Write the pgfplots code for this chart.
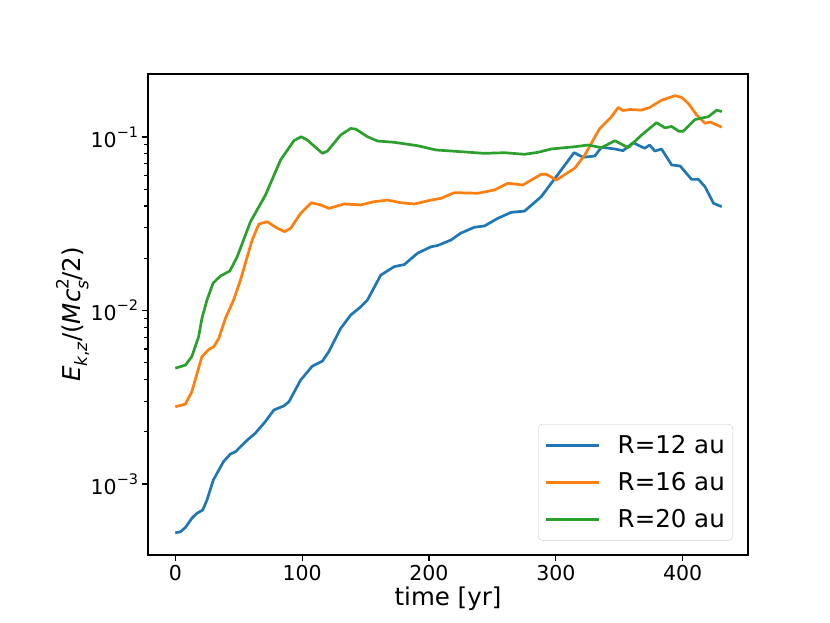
\documentclass[border=0pt]{standalone}
\usepackage{fontspec}
\setmainfont{DejaVu Sans}
\usepackage{pgfplots}
\pgfplotsset{compat=1.18}
\definecolor{c0}{HTML}{1F77B4}
\definecolor{c1}{HTML}{FF7F0E}
\definecolor{c2}{HTML}{2CA02C}
\newcommand{\sm}[1]{{\fontsize{17}{17}\selectfont #1}}
\newcommand{\expo}[1]{10\raisebox{0.5em}{\fontsize{14.5}{14.5}\selectfont #1}}
\begin{document}
\begin{tikzpicture}
\begin{axis}[
  at={(0pt,0pt)}, anchor=south west,
  scale only axis, width=600pt, height=481pt,
  ymode=log,
  xmin=-21.5, xmax=451.5, ymin=3.9e-4, ymax=0.2307,
  axis line style={line width=1.3pt},
  every tick/.style={line width=1.1pt, black},
  tick align=outside, tick pos=left,
  major tick length=6.3pt, minor tick length=3.6pt,
  xtick={0,100,200,300,400},
  ytick={1e-3,1e-2,1e-1},
  yticklabels={\expo{−3},\expo{−2},\expo{−1}},
  /pgf/number format/assume math mode=true,
  ticklabel style={font=\fontsize{20.5}{24}\selectfont},
  xlabel={time [yr]},
  ylabel={\textit{E}\raisebox{-0.25em}{\sm{\textit{k},\textit{z}}}/(\textit{Mc}\rlap{\raisebox{0.5em}{\sm{2}}}\raisebox{-0.3em}{\sm{\textit{s}}}/2)},
  label style={font=\fontsize{24.5}{29}\selectfont},
  ylabel style={at={(axis description cs:-0.1258,0.5)}, anchor=center},
  legend cell align=left,
  legend style={at={(1,0)}, anchor=south east, xshift=-15pt, yshift=14.5pt,
    font=\fontsize{24.5}{29}\selectfont, draw=black!20,
    rounded corners=4pt, row sep=13.5pt, inner xsep=6pt, inner ysep=9pt},
  legend image code/.code={\draw[#1, solid, line width=3pt] (0pt,0pt) -- (53pt,0pt);\path[draw=none] (0pt,0pt) -- (70pt,0pt);},
  every axis plot/.append style={line width=2.7pt, line join=round},
]
\addplot[c0] coordinates {
(0,5.24e-4) (4,5.3e-4) (8,5.62e-4) (13,6.34e-4) (17,6.78e-4) (21.6,7.08e-4)
(25,8.09e-4) (30,1.055e-3) (38,1.346e-3) (43.5,1.49e-3) (47.4,1.535e-3)
(56.7,1.79e-3) (63,1.96e-3) (71,2.29e-3) (77.7,2.67e-3) (85.6,2.82e-3)
(89.6,2.98e-3) (98.8,3.97e-3) (108,4.78e-3) (116,5.11e-3) (121,5.79e-3)
(130.4,7.89e-3) (138.3,9.42e-3) (146.2,1.05e-2) (151.5,1.15e-2) (162,1.60e-2)
(172.6,1.79e-2) (180.5,1.84e-2) (191,2.14e-2) (201.6,2.33e-2) (206.9,2.37e-2)
(217.4,2.55e-2) (225,2.79e-2) (235.8,3.02e-2) (243.7,3.07e-2) (254.3,3.40e-2)
(264.8,3.68e-2) (275.3,3.74e-2) (288.5,4.53e-2) (304.3,6.46e-2) (314.4,8.13e-2)
(321.5,7.64e-2) (330.7,7.77e-2) (336,8.73e-2) (346.5,8.53e-2) (353,8.34e-2)
(361,9.27e-2) (370,8.61e-2) (374,8.99e-2) (378,8.30e-2) (383.4,8.52e-2)
(391.3,6.90e-2) (398,6.81e-2) (407,5.70e-2) (412.4,5.70e-2) (417.6,5.17e-2)
(424.3,4.15e-2) (430.8,3.97e-2)
};
\addlegendentry{R=12 au}
\addplot[c1] coordinates {
(0,2.79e-3) (8,2.89e-3) (13,3.40e-3) (21,5.42e-3) (26.4,5.97e-3) (30.3,6.18e-3)
(34.3,6.91e-3) (39.5,9.0e-3) (46,1.15e-2) (51.4,1.50e-2) (60.6,2.55e-2)
(65.9,3.15e-2) (72.5,3.25e-2) (80.4,2.98e-2) (86.2,2.85e-2) (91,2.98e-2)
(98.8,3.63e-2) (107.3,4.18e-2) (114.6,4.06e-2) (121.2,3.88e-2) (133,4.11e-2)
(146.2,4.06e-2) (156.8,4.24e-2) (167.3,4.33e-2) (177.9,4.18e-2) (188.4,4.11e-2)
(201.6,4.33e-2) (209.5,4.43e-2) (220,4.78e-2) (238.5,4.74e-2) (251.6,4.95e-2)
(262.2,5.41e-2) (274,5.29e-2) (288.5,6.10e-2) (292.5,6.10e-2) (300.4,5.65e-2)
(314.9,6.61e-2) (322.8,7.87e-2) (334.6,0.112) (343.9,0.131) (349.2,0.148)
(353,0.142) (358.3,0.144) (367.6,0.143) (374,0.148) (383.4,0.163) (394,0.173)
(399.2,0.169) (404.5,0.156) (411,0.134) (417.6,0.120) (421.6,0.122) (430.8,0.114)
};
\addlegendentry{R=16 au}
\addplot[c2] coordinates {
(0,4.65e-3) (8,4.85e-3) (13,5.42e-3) (18.4,7.06e-3) (21,9.0e-3) (25,1.15e-2)
(29.8,1.44e-2) (35.6,1.58e-2) (43,1.69e-2) (48.8,2.04e-2) (59.3,3.25e-2)
(71.1,4.63e-2) (83,7.37e-2) (93.5,9.52e-2) (99.3,0.1004) (104,0.0961)
(116,0.0805) (120,0.083) (130.4,0.1027) (138.3,0.112) (142.3,0.111)
(151.5,0.1004) (159.4,0.0948) (172.6,0.0932) (191,0.0891) (205.5,0.0842)
(225,0.0823) (243.7,0.0805) (259.5,0.0812) (275.3,0.0795) (286,0.0816)
(296.4,0.0853) (315,0.0879) (325.4,0.0899) (336,0.0868) (346.5,0.0952)
(357,0.0868) (367.6,0.1027) (379.4,0.121) (386,0.113) (391.3,0.115)
(397,0.108) (400.5,0.108) (409.7,0.126) (420.3,0.131) (426.9,0.143) (430.8,0.140)
};
\addlegendentry{R=20 au}
\end{axis}
\useasboundingbox (-148pt,-68pt) rectangle (682pt,555pt);
\end{tikzpicture}
\end{document}
